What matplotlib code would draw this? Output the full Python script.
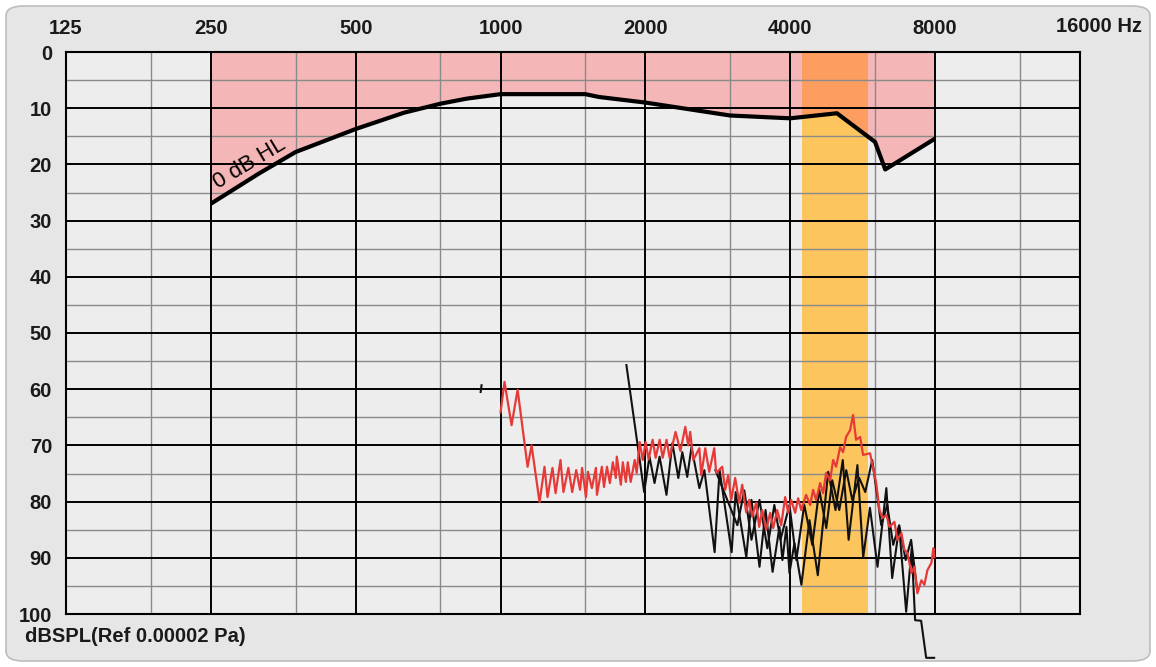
import numpy as np
import matplotlib.pyplot as plt
from matplotlib.patches import FancyBboxPatch

plt.rcParams['font.family'] = ['Liberation Sans', 'DejaVu Sans']

# frequency axis (Hz) and level axis (dB SPL)
freq_ticks = [125, 250, 500, 1000, 2000, 4000, 8000, 16000]
freq_labels = ['125', '250', '500', '1000', '2000', '4000', '8000', '']
freq_minor = [187.5, 375, 750, 1500, 3000, 6000, 12000]
db_ticks = list(range(0, 101, 10))
db_minor = list(range(5, 100, 10))

# 0 dB HL reference curve
hl_freq = [250, 315, 375, 500, 630, 750, 850, 1000, 1500, 1600, 2000, 3000,
           4000, 4200, 5000, 6000, 6300, 8000]
hl_db = [27.0, 21.6, 17.8, 13.7, 10.8, 9.2, 8.3, 7.5, 7.5, 8.0, 9.0, 11.3,
         11.8, 11.6, 10.9, 16.0, 20.9, 15.4]

# highlighted frequency band
band_lo, band_hi = 4236, 5810

# red measurement trace
red_freq = [1000, 1019, 1054, 1085, 1138, 1160, 1205, 1234, 1252, 1282, 1301,
            1332, 1351, 1383, 1409, 1436, 1463, 1477, 1505, 1519, 1548, 1578,
            1586, 1624, 1640, 1664, 1687, 1711, 1736, 1744, 1778, 1795, 1821,
            1838, 1864, 1900, 1918, 1946, 1974, 2002, 2031, 2070, 2100, 2141,
            2172, 2213, 2245, 2310, 2365, 2420, 2455, 2478, 2514, 2589, 2612,
            2663, 2714, 2780, 2806, 2888, 2930, 2972, 3015, 3073, 3133, 3178,
            3239, 3286, 3334, 3398, 3447, 3497, 3564, 3633, 3686, 3757, 3830,
            3903, 3960, 4017, 4095, 4154, 4214, 4315, 4399, 4462, 4527, 4614,
            4681, 4748, 4840, 4910, 4981, 5077, 5150, 5224, 5325, 5402, 5480,
            5586, 5667, 5859, 6034, 6130, 6218, 6337, 6428, 6583, 6678, 6808,
            6906, 7006, 7141, 7244, 7349, 7491, 7599, 7709, 7858, 7933, 7971]
red_db = [64.1, 58.7, 66.4, 60.1, 73.8, 70.0, 80.1, 73.8, 79.2, 74.0, 78.5,
          72.6, 78.3, 74.0, 78.3, 74.4, 77.9, 74.0, 79.2, 74.7, 77.6, 74.0,
          78.8, 73.8, 77.4, 73.8, 76.7, 73.0, 75.8, 72.0, 77.0, 73.0, 76.5,
          73.0, 76.5, 72.6, 74.9, 69.4, 72.6, 69.4, 72.5, 69.0, 72.2, 69.0,
          72.2, 69.0, 72.2, 67.6, 71.0, 66.7, 70.0, 67.6, 72.6, 70.5, 75.3,
          70.5, 74.7, 70.5, 74.9, 73.8, 77.9, 75.3, 79.7, 75.8, 80.2, 77.0,
          81.9, 79.7, 82.7, 80.2, 84.5, 81.5, 85.0, 82.0, 84.7, 81.5, 84.2,
          79.2, 82.0, 79.7, 82.0, 79.4, 81.5, 78.8, 80.6, 77.9, 79.7, 76.7,
          78.5, 74.9, 76.2, 72.6, 73.8, 70.3, 71.2, 68.5, 67.3, 64.6, 69.0,
          68.5, 71.7, 71.4, 76.7, 81.5, 82.9, 82.4, 84.5, 83.6, 86.8, 85.6,
          88.6, 89.1, 92.7, 91.6, 96.3, 94.0, 94.8, 92.2, 90.9, 88.3, 89.9]

# black measurement traces
blk1_freq = [1826, 1988, 2039, 2089, 2140, 2212, 2275, 2341, 2386, 2443, 2493,
             2589, 2652, 2785, 2852, 3021, 3080, 3241, 3322, 3452, 3554, 3675,
             3798, 3852, 3927, 3984, 4080, 4218, 4385, 4563, 4795, 4966, 5142,
             5288, 5515, 5670, 5856, 6072, 6334, 6513, 6735, 6964, 7150, 7269,
             7481, 7664, 7962]
blk1_db = [55.7, 78.3, 72.0, 76.7, 72.0, 78.8, 69.6, 75.8, 71.2, 75.6, 70.3,
           77.6, 74.4, 89.0, 74.4, 89.0, 78.3, 89.9, 79.7, 91.6, 81.5, 92.5,
           84.5, 90.4, 84.5, 92.7, 87.4, 94.8, 83.3, 93.1, 74.7, 81.5, 72.6,
           86.8, 73.5, 89.9, 81.1, 91.6, 77.6, 93.6, 84.5, 99.6, 88.3, 101.1,
           101.2, 107.8, 107.8]

blk2_freq = [2795, 3105, 3210, 3322, 3452, 3584, 3706, 3817, 3984, 4117, 4277,
             4444, 4595, 4752, 4889, 5056, 5228, 5381, 5564, 5726, 5920, 6181,
             6361, 6545, 6735, 6948, 7131, 7341]
blk2_db = [74.4, 84.2, 78.0, 86.8, 79.7, 88.3, 80.6, 86.8, 80.6, 90.4, 80.6,
           87.7, 77.9, 84.7, 76.2, 81.5, 74.4, 79.7, 75.8, 78.3, 72.6, 84.2,
           80.6, 87.7, 84.2, 90.4, 86.8, 95.7]

mark_freq = [913, 909]
mark_db = [59.3, 60.5]

W, H = 1156, 667
fig = plt.figure(figsize=(W / 100, H / 100), dpi=100)
fig.patch.set_facecolor('white')

# metal-look panel behind everything
panel = FancyBboxPatch((6 / W, 6 / H), 1144 / W, 655 / H,
                       boxstyle='round,pad=0,rounding_size=0.015',
                       transform=fig.transFigure, facecolor='#e6e6e6',
                       edgecolor='#bdbdbd', linewidth=1.2, zorder=-10)
fig.patches.append(panel)

ax = fig.add_axes([66 / W, 1 - 614 / H, (1080 - 66) / W, (614 - 52) / H])
ax.set_zorder(1)
ax.set_facecolor('#ededed')
ax.set_xscale('log')
ax.set_xlim(125, 16000)
ax.set_ylim(100, 0)

# shaded regions
ax.axvspan(band_lo, band_hi, color='#fcc55e', zorder=1, lw=0)
ax.fill_between(hl_freq, 0, hl_db, color='#ff6464', alpha=0.4, lw=0, zorder=1.5)

# grid
for f in freq_minor:
    ax.axvline(f, color='#8a8a8a', lw=1.0, zorder=2)
for d in db_minor:
    ax.axhline(d, color='#8a8a8a', lw=1.0, zorder=2)
for f in freq_ticks[1:-1]:
    ax.axvline(f, color='black', lw=1.4, zorder=2.1)
for d in db_ticks[1:-1]:
    ax.axhline(d, color='black', lw=1.4, zorder=2.1)

# curves
ax.plot(hl_freq, hl_db, color='black', lw=3.0, zorder=4, solid_capstyle='butt')
ax.plot(blk2_freq, blk2_db, color='#111111', lw=1.5, zorder=3)
ax.plot(blk1_freq, blk1_db, color='#111111', lw=1.5, zorder=3, clip_on=False)
ax.plot(red_freq, red_db, color='#e63a38', lw=1.6, zorder=3.5)
ax.plot(mark_freq, mark_db, color='#111111', lw=1.5, zorder=3)

ax.text(301, 19.9, '0 dB HL', rotation=31, rotation_mode='anchor',
        ha='center', va='center', fontsize=16, color='black', zorder=5)

# axes styling
for s in ax.spines.values():
    s.set_color('black')
    s.set_linewidth(1.5)
    s.set_zorder(5)

ax.xaxis.tick_top()
ax.set_xticks(freq_ticks)
ax.set_xticklabels(freq_labels)
ax.xaxis.set_minor_locator(plt.NullLocator())
ax.set_yticks(db_ticks)
ax.set_yticklabels([str(d) for d in db_ticks])
ax.tick_params(axis='x', length=0, pad=10, labelsize=14.5, labelcolor='#1a1a1a')
ax.tick_params(axis='y', length=0, pad=10, labelsize=14.5, labelcolor='#1a1a1a')
for lab in ax.get_xticklabels() + ax.get_yticklabels():
    lab.set_fontweight('bold')

# last frequency label carries the unit
fig.text(1142 / W, 1 - 27 / H, '16000 Hz', ha='right', va='center',
         fontsize=14.5, fontweight='bold', color='#1a1a1a')
fig.text(25 / W, 1 - 637 / H, 'dBSPL(Ref 0.00002 Pa)', ha='left', va='center',
         fontsize=14.5, fontweight='bold', color='#1a1a1a')

fig.savefig('out.png', dpi=100)
